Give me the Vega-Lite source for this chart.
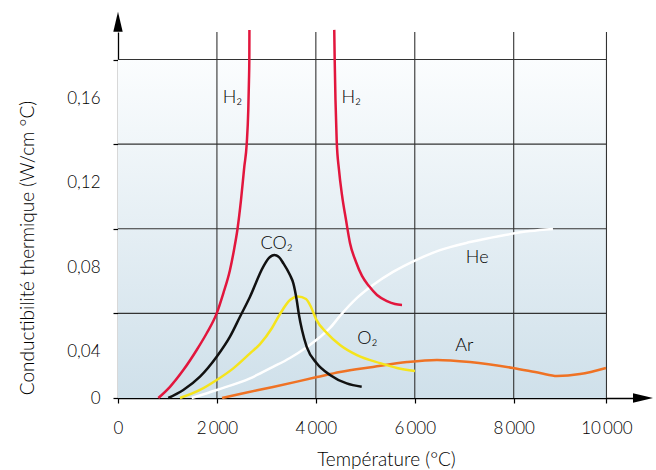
{
  "$schema": "https://vega.github.io/schema/vega-lite/v6.json",
  "width": 515,
  "height": 366,
  "autosize": "none",
  "padding": {"left": 118, "top": 32, "right": 23, "bottom": 72},
  "background": "white",
  "config": {
    "view": {"stroke": null},
    "axis": {
      "labelFont": "Lato",
      "titleFont": "Lato",
      "labelFontSize": 17,
      "titleFontSize": 19,
      "labelFontWeight": 300,
      "titleFontWeight": 300,
      "labelColor": "#000000",
      "titleColor": "#000000",
      "domainColor": "#000000",
      "domainWidth": 1.3,
      "tickColor": "#000000",
      "tickWidth": 1.2,
      "tickSize": 5,
      "grid": false
    }
  },
  "encoding": {
    "x": {
      "field": "t",
      "type": "quantitative",
      "scale": {"domain": [0, 8000, 10572], "range": [0, 395.7, 515], "nice": false, "zero": false},
      "axis": {
        "values": [0, 2000, 4000, 6000, 8000, 10000],
        "labelExpr": "datum.value == 0 ? '0' : replace(format(datum.value, ','), ',', '\u2009')",
        "labelPadding": 17,
        "title": "Température (°C)",
        "titleX": 268,
        "titleY": 67.5,
        "titleAlign": "center",
        "titleBaseline": "alphabetic",
        "labelFlush": false,
        "labelOverlap": false
      }
    },
    "y": {
      "field": "k",
      "type": "quantitative",
      "scale": {"domain": [0, 0.173], "nice": false, "zero": false},
      "axis": {
        "values": [0, 0.04, 0.08, 0.12, 0.16],
        "labelExpr": "datum.value == 0 ? '0' : replace(format(datum.value, '.2f'), '.', ',')",
        "labelPadding": 13,
        "labelOffset": {"condition": {"test": "datum.value == 0", "value": 0}, "value": 38.5},
        "title": "Conductibilité thermique (W/cm °C)",
        "titleX": -85,
        "titleY": 215.5,
        "titleAlign": "center",
        "titleBaseline": "alphabetic",
        "labelFlush": false,
        "labelOverlap": false
      }
    }
  },
  "layer": [
    {
      "data": {"values": [{"t": 0, "t2": 10000, "k": 0, "k2": 0.16}]},
      "mark": {
        "type": "rect",
        "fill": {
          "gradient": "linear", "x1": 0, "y1": 0, "x2": 0, "y2": 1,
          "stops": [{"offset": 0, "color": "#fbfdfe"}, {"offset": 1, "color": "#cfe0ea"}]
        }
      },
      "encoding": {"x2": {"field": "t2"}, "y2": {"field": "k2"}}
    },
    {
      "data": {"values": [
        {"t": 0, "t2": 10000, "k": 0.04},
        {"t": 0, "t2": 10000, "k": 0.08},
        {"t": 0, "t2": 10000, "k": 0.12},
        {"t": 0, "t2": 10000, "k": 0.16}
      ]},
      "mark": {"type": "rule", "color": "#333333", "strokeWidth": 1.1},
      "encoding": {"x2": {"field": "t2"}}
    },
    {
      "data": {"values": [
        {"t": 2000, "k": 0, "k2": 0.173},
        {"t": 4000, "k": 0, "k2": 0.173},
        {"t": 6000, "k": 0, "k2": 0.173},
        {"t": 8000, "k": 0, "k2": 0.173},
        {"t": 10000, "k": 0, "k2": 0.173}
      ]},
      "mark": {"type": "rule", "color": "#333333", "strokeWidth": 1.1},
      "encoding": {"y2": {"field": "k2"}}
    },
    {
      "data": {"values": [
        {"g": "Ar", "c": "Ar", "i": 0, "t": 2103, "k": 0},
        {"g": "Ar", "c": "Ar", "i": 1, "t": 2466, "k": 0.0019},
        {"g": "Ar", "c": "Ar", "i": 2, "t": 3134, "k": 0.0052},
        {"g": "Ar", "c": "Ar", "i": 3, "t": 4023, "k": 0.0099},
        {"g": "Ar", "c": "Ar", "i": 4, "t": 4488, "k": 0.0123},
        {"g": "Ar", "c": "Ar", "i": 5, "t": 5155, "k": 0.0147},
        {"g": "Ar", "c": "Ar", "i": 6, "t": 5843, "k": 0.017},
        {"g": "Ar", "c": "Ar", "i": 7, "t": 6449, "k": 0.018},
        {"g": "Ar", "c": "Ar", "i": 8, "t": 7116, "k": 0.017},
        {"g": "Ar", "c": "Ar", "i": 9, "t": 7986, "k": 0.0142},
        {"g": "Ar", "c": "Ar", "i": 10, "t": 8567, "k": 0.0118},
        {"g": "Ar", "c": "Ar", "i": 11, "t": 8933, "k": 0.0104},
        {"g": "Ar", "c": "Ar", "i": 12, "t": 9429, "k": 0.0113},
        {"g": "Ar", "c": "Ar", "i": 13, "t": 9990, "k": 0.0142},

        {"g": "He", "c": "He", "i": 0, "t": 1490, "k": 0},
        {"g": "He", "c": "He", "i": 1, "t": 1995, "k": 0.0038},
        {"g": "He", "c": "He", "i": 2, "t": 2669, "k": 0.0093},
        {"g": "He", "c": "He", "i": 3, "t": 3134, "k": 0.0147},
        {"g": "He", "c": "He", "i": 4, "t": 3477, "k": 0.0189},
        {"g": "He", "c": "He", "i": 5, "t": 3821, "k": 0.0241},
        {"g": "He", "c": "He", "i": 6, "t": 4084, "k": 0.0288},
        {"g": "He", "c": "He", "i": 7, "t": 4286, "k": 0.0331},
        {"g": "He", "c": "He", "i": 8, "t": 4488, "k": 0.0388},
        {"g": "He", "c": "He", "i": 9, "t": 4832, "k": 0.0473},
        {"g": "He", "c": "He", "i": 10, "t": 5155, "k": 0.0534},
        {"g": "He", "c": "He", "i": 11, "t": 5560, "k": 0.0596},
        {"g": "He", "c": "He", "i": 12, "t": 6025, "k": 0.0652},
        {"g": "He", "c": "He", "i": 13, "t": 6510, "k": 0.0699},
        {"g": "He", "c": "He", "i": 14, "t": 7116, "k": 0.0737},
        {"g": "He", "c": "He", "i": 15, "t": 7723, "k": 0.0766},
        {"g": "He", "c": "He", "i": 16, "t": 8351, "k": 0.0789},
        {"g": "He", "c": "He", "i": 17, "t": 8847, "k": 0.0799},

        {"g": "O2", "c": "O2", "i": 0, "t": 1253, "k": 0},
        {"g": "O2", "c": "O2", "i": 1, "t": 1658, "k": 0.0038},
        {"g": "O2", "c": "O2", "i": 2, "t": 1995, "k": 0.0085},
        {"g": "O2", "c": "O2", "i": 3, "t": 2331, "k": 0.014},
        {"g": "O2", "c": "O2", "i": 4, "t": 2669, "k": 0.0211},
        {"g": "O2", "c": "O2", "i": 5, "t": 2871, "k": 0.0255},
        {"g": "O2", "c": "O2", "i": 6, "t": 3113, "k": 0.0331},
        {"g": "O2", "c": "O2", "i": 7, "t": 3275, "k": 0.0397},
        {"g": "O2", "c": "O2", "i": 8, "t": 3477, "k": 0.0463},
        {"g": "O2", "c": "O2", "i": 9, "t": 3639, "k": 0.048},
        {"g": "O2", "c": "O2", "i": 10, "t": 3801, "k": 0.0468},
        {"g": "O2", "c": "O2", "i": 11, "t": 3902, "k": 0.043},
        {"g": "O2", "c": "O2", "i": 12, "t": 4003, "k": 0.0373},
        {"g": "O2", "c": "O2", "i": 13, "t": 4225, "k": 0.0307},
        {"g": "O2", "c": "O2", "i": 14, "t": 4488, "k": 0.0251},
        {"g": "O2", "c": "O2", "i": 15, "t": 4832, "k": 0.0203},
        {"g": "O2", "c": "O2", "i": 16, "t": 5297, "k": 0.0165},
        {"g": "O2", "c": "O2", "i": 17, "t": 5641, "k": 0.0142},
        {"g": "O2", "c": "O2", "i": 18, "t": 6005, "k": 0.0128},

        {"g": "CO2", "c": "CO2", "i": 0, "t": 1017, "k": 0},
        {"g": "CO2", "c": "CO2", "i": 1, "t": 1320, "k": 0.0038},
        {"g": "CO2", "c": "CO2", "i": 2, "t": 1658, "k": 0.0101},
        {"g": "CO2", "c": "CO2", "i": 3, "t": 1995, "k": 0.0195},
        {"g": "CO2", "c": "CO2", "i": 4, "t": 2264, "k": 0.029},
        {"g": "CO2", "c": "CO2", "i": 5, "t": 2466, "k": 0.0384},
        {"g": "CO2", "c": "CO2", "i": 6, "t": 2669, "k": 0.0479},
        {"g": "CO2", "c": "CO2", "i": 7, "t": 2938, "k": 0.0621},
        {"g": "CO2", "c": "CO2", "i": 8, "t": 3053, "k": 0.0662},
        {"g": "CO2", "c": "CO2", "i": 9, "t": 3160, "k": 0.0676},
        {"g": "CO2", "c": "CO2", "i": 10, "t": 3255, "k": 0.0666},
        {"g": "CO2", "c": "CO2", "i": 11, "t": 3342, "k": 0.0637},
        {"g": "CO2", "c": "CO2", "i": 12, "t": 3477, "k": 0.0581},
        {"g": "CO2", "c": "CO2", "i": 13, "t": 3545, "k": 0.0542},
        {"g": "CO2", "c": "CO2", "i": 14, "t": 3613, "k": 0.0463},
        {"g": "CO2", "c": "CO2", "i": 15, "t": 3659, "k": 0.0392},
        {"g": "CO2", "c": "CO2", "i": 16, "t": 3720, "k": 0.0321},
        {"g": "CO2", "c": "CO2", "i": 17, "t": 3815, "k": 0.0242},
        {"g": "CO2", "c": "CO2", "i": 18, "t": 4017, "k": 0.0164},
        {"g": "CO2", "c": "CO2", "i": 19, "t": 4286, "k": 0.0109},
        {"g": "CO2", "c": "CO2", "i": 20, "t": 4624, "k": 0.0069},
        {"g": "CO2", "c": "CO2", "i": 21, "t": 4927, "k": 0.0053},

        {"g": "H2", "c": "H2a", "i": 0, "t": 815, "k": 0},
        {"g": "H2", "c": "H2a", "i": 1, "t": 1051, "k": 0.0053},
        {"g": "H2", "c": "H2a", "i": 2, "t": 1320, "k": 0.0132},
        {"g": "H2", "c": "H2a", "i": 3, "t": 1591, "k": 0.0227},
        {"g": "H2", "c": "H2a", "i": 4, "t": 1793, "k": 0.0306},
        {"g": "H2", "c": "H2a", "i": 5, "t": 1995, "k": 0.04},
        {"g": "H2", "c": "H2a", "i": 6, "t": 2129, "k": 0.0495},
        {"g": "H2", "c": "H2a", "i": 7, "t": 2264, "k": 0.0605},
        {"g": "H2", "c": "H2a", "i": 8, "t": 2345, "k": 0.07},
        {"g": "H2", "c": "H2a", "i": 9, "t": 2416, "k": 0.0799},
        {"g": "H2", "c": "H2a", "i": 10, "t": 2487, "k": 0.0936},
        {"g": "H2", "c": "H2a", "i": 11, "t": 2553, "k": 0.1092},
        {"g": "H2", "c": "H2a", "i": 12, "t": 2602, "k": 0.12},
        {"g": "H2", "c": "H2a", "i": 13, "t": 2634, "k": 0.1361},
        {"g": "H2", "c": "H2a", "i": 14, "t": 2648, "k": 0.1503},
        {"g": "H2", "c": "H2a", "i": 15, "t": 2655, "k": 0.1597},
        {"g": "H2", "c": "H2a", "i": 16, "t": 2657, "k": 0.174},

        {"g": "H2", "c": "H2b", "i": 0, "t": 4372, "k": 0.174},
        {"g": "H2", "c": "H2b", "i": 1, "t": 4381, "k": 0.1597},
        {"g": "H2", "c": "H2b", "i": 2, "t": 4397, "k": 0.1408},
        {"g": "H2", "c": "H2b", "i": 3, "t": 4421, "k": 0.1219},
        {"g": "H2", "c": "H2b", "i": 4, "t": 4468, "k": 0.1078},
        {"g": "H2", "c": "H2b", "i": 5, "t": 4529, "k": 0.0959},
        {"g": "H2", "c": "H2b", "i": 6, "t": 4610, "k": 0.0841},
        {"g": "H2", "c": "H2b", "i": 7, "t": 4690, "k": 0.0733},
        {"g": "H2", "c": "H2b", "i": 8, "t": 4812, "k": 0.0643},
        {"g": "H2", "c": "H2b", "i": 9, "t": 4933, "k": 0.0577},
        {"g": "H2", "c": "H2b", "i": 10, "t": 5074, "k": 0.0529},
        {"g": "H2", "c": "H2b", "i": 11, "t": 5236, "k": 0.0487},
        {"g": "H2", "c": "H2b", "i": 12, "t": 5438, "k": 0.0458},
        {"g": "H2", "c": "H2b", "i": 13, "t": 5600, "k": 0.0444},
        {"g": "H2", "c": "H2b", "i": 14, "t": 5742, "k": 0.044}
      ]},
      "mark": {"type": "line", "interpolate": "monotone", "strokeWidth": 2.5, "clip": false},
      "encoding": {
        "detail": {"field": "c"},
        "order": {"field": "i", "type": "quantitative"},
        "color": {
          "field": "g",
          "type": "nominal",
          "scale": {"domain": ["H2", "CO2", "O2", "He", "Ar"], "range": ["#e2163d", "#111111", "#f5e41c", "#ffffff", "#ef7224"]},
          "legend": null
        }
      }
    },
    {
      "data": {"values": [
        {"label": "H₂", "t": 2315, "k": 0.1393},
        {"label": "H₂", "t": 4717, "k": 0.1393},
        {"label": "CO₂", "t": 3208, "k": 0.0703},
        {"label": "He", "t": 7262, "k": 0.0637},
        {"label": "O₂", "t": 5044, "k": 0.0255},
        {"label": "Ar", "t": 6999, "k": 0.0224}
      ]},
      "mark": {"type": "text", "font": "Lato", "fontSize": 18, "fontWeight": 300, "align": "center", "baseline": "alphabetic", "color": "#000000"},
      "encoding": {"text": {"field": "label"}}
    },
    {
      "data": {"values": [
        {"s": "up", "t": 0, "k": 0.1778},
        {"s": "right", "t": 10788, "k": 0}
      ]},
      "mark": {"type": "point", "filled": true, "color": "#000000", "opacity": 1, "size": 400, "strokeWidth": 0, "clip": false},
      "encoding": {
        "shape": {
          "field": "s",
          "type": "nominal",
          "scale": {"domain": ["up", "right"], "range": ["M-0.47,1L0,-1L0.47,1Z", "M-1,-0.47L1,0L-1,0.47Z"]},
          "legend": null
        }
      }
    }
  ]
}
